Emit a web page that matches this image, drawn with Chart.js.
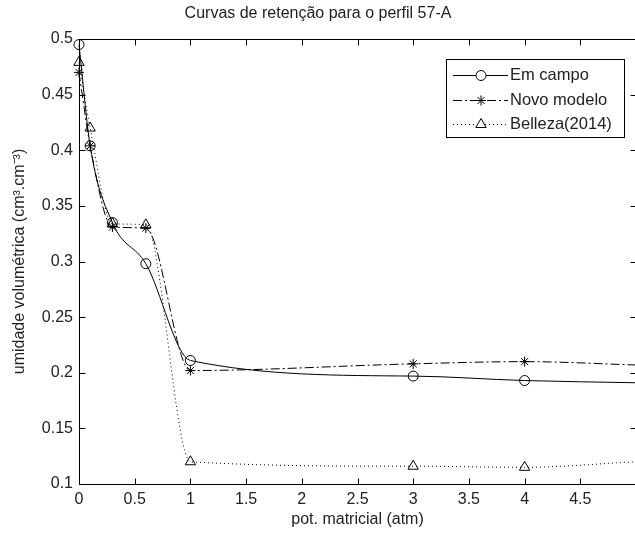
<!DOCTYPE html>
<html><head><meta charset="utf-8">
<script src="https://cdn.jsdelivr.net/npm/chart.js@4/dist/chart.umd.min.js"></script>
<style>
html,body{margin:0;padding:0;background:#fff;overflow:hidden;width:635px;height:534px}
#wrap{position:absolute;left:0;top:0;width:715px;height:534px}
</style>
</head><body><div id="wrap"><canvas id="c" width="715" height="534"></canvas></div>
<script>
// ---- data ----
const potMatricial = [0, 0.1, 0.3, 0.6, 1, 3, 4, 5];
const emCampo      = [0.495, 0.404, 0.335, 0.298, 0.211, 0.197, 0.193, 0.191];
const novoModelo   = [0.470, 0.404, 0.331, 0.330, 0.202, 0.208, 0.210, 0.207];
const belleza      = [0.479, 0.420, 0.334, 0.333, 0.120, 0.116, 0.115, 0.120];
const seriesNames  = ['Em campo', 'Novo modelo', 'Belleza(2014)'];
const xTicks = [0, 0.5, 1, 1.5, 2, 2.5, 3, 3.5, 4, 4.5, 5];
const xTickLabels = ['0', '0.5', '1', '1.5', '2', '2.5', '3', '3.5', '4', '4.5', '5'];
const yTicks = [0.1, 0.15, 0.2, 0.25, 0.3, 0.35, 0.4, 0.45, 0.5];
const yTickLabels = ['0.1', '0.15', '0.2', '0.25', '0.3', '0.35', '0.4', '0.45', '0.5'];
const titleText = 'Curvas de retenção para o perfil 57-A';
const xTitle = 'pot. matricial (atm)';
const yTitle = 'umidade volumétrica (cm³.cm⁻³)';

const FONT = '"Liberation Sans", Arial, sans-serif';
const TXT = '#222';
const lastIdx = potMatricial.length - 1;

function pts(ys){ return potMatricial.map((x,i)=>({x:x, y:ys[i]})); }
const hideLast = ctx => ctx.dataIndex === lastIdx ? 0 : undefined;

const styles = [
  {pointStyle:'circle', radius:5, dash:[]},
  {pointStyle:'star', radius:5, dash:[9,3,2,3]},
  {pointStyle:'triangle', radius:6, dash:[1,3]}
];
const seriesData = [emCampo, novoModelo, belleza];

const datasets = seriesData.map((ys,k)=>({
  label: seriesNames[k],
  data: pts(ys),
  borderColor:'#000',
  borderWidth:1,
  borderDash: styles[k].dash,
  backgroundColor:'rgba(0,0,0,0)',
  pointStyle: styles[k].pointStyle,
  pointRadius: ctx => ctx.dataIndex === lastIdx ? 0 : styles[k].radius,
  pointBorderColor:'#000',
  pointBorderWidth:1,
  pointBackgroundColor:'rgba(0,0,0,0)',
  cubicInterpolationMode:'monotone',
  fill:false,
  clip:false
}));

const axesPlugin = {
  id:'axesBox',
  afterDraw(chart){
    const {ctx, chartArea:a, scales:{x, y}} = chart;
    ctx.save();
    ctx.strokeStyle = '#000';
    ctx.lineWidth = 1;
    ctx.setLineDash([]);
    const L = Math.round(a.left)+0.5, R = Math.round(a.right)+0.5,
          T = Math.round(a.top)+0.5, B = Math.round(a.bottom)+0.5;
    ctx.beginPath();
    ctx.rect(L, T, R-L, B-T);
    const tl = 6;
    xTicks.forEach(v=>{
      const p = Math.round(x.getPixelForValue(v))+0.5;
      ctx.moveTo(p, B); ctx.lineTo(p, B-tl);
      ctx.moveTo(p, T); ctx.lineTo(p, T+tl);
    });
    yTicks.forEach(v=>{
      const p = Math.round(y.getPixelForValue(v))+0.5;
      ctx.moveTo(L, p); ctx.lineTo(L+tl, p);
      ctx.moveTo(R, p); ctx.lineTo(R-tl, p);
    });
    ctx.stroke();

    // legend
    const bx = 446.5, by = 59.5, bw = 178, bh = 78;
    ctx.fillStyle = '#fff';
    ctx.fillRect(bx, by, bw, bh);
    ctx.strokeRect(bx, by, bw, bh);
    const rows = [75, 100, 124];
    ctx.font = '16.5px ' + FONT;
    ctx.textBaseline = 'middle';
    ctx.textAlign = 'left';
    chart.data.datasets.forEach((ds,k)=>{
      const yy = rows[k] + 0.5;
      ctx.strokeStyle = '#000';
      ctx.lineWidth = 1;
      ctx.setLineDash(styles[k].dash);
      ctx.beginPath();
      ctx.moveTo(453, yy); ctx.lineTo(508, yy);
      ctx.stroke();
      ctx.setLineDash([]);
      ctx.fillStyle = '#fff';
      Chart.helpers.drawPoint(ctx, {pointStyle: styles[k].pointStyle, radius: styles[k].radius, borderWidth:1, rotation:0}, 481, yy);
      ctx.fillStyle = TXT;
      ctx.fillText(ds.label, 510, rows[k]);
    });
    ctx.restore();
  }
};

new Chart(document.getElementById('c'), {
  type:'line',
  data:{datasets},
  options:{
    responsive:false,
    devicePixelRatio:1,
    animation:false,
    layout:{padding:{left:0, right:79, top:0, bottom:0}},
    plugins:{
      legend:{display:false},
      tooltip:{enabled:false},
      title:{display:true, text:titleText, color:TXT,
        font:{family:FONT, size:16, weight:'normal', lineHeight:1.2},
        padding:{top:3.5, bottom:16.3}}
    },
    scales:{
      x:{type:'linear', min:0, max:5,
        afterBuildTicks: s => { s.ticks = xTicks.slice(0,-1).map(v=>({value:v})); },
        afterFit: s => { s.height = 50; },
        grid:{display:false, drawTicks:false},
        border:{display:false},
        ticks:{color:TXT, font:{family:FONT, size:16}, padding:6, maxRotation:0, autoSkip:false,
          callback: v => xTickLabels[xTicks.indexOf(v)]},
        title:{display:true, text:xTitle, color:TXT, font:{family:FONT, size:16, lineHeight:1.2}, padding:{top:0, bottom:4.4}}
      },
      y:{type:'linear', min:0.1, max:0.5,
        afterBuildTicks: s => { s.ticks = yTicks.map(v=>({value:v})); },
        afterFit: s => { s.width = 79; },
        grid:{display:false, drawTicks:false},
        border:{display:false},
        ticks:{color:TXT, font:{family:FONT, size:16}, padding:6, autoSkip:false,
          callback: v => yTickLabels[yTicks.indexOf(v)]},
        title:{display:true, text:yTitle, color:TXT, font:{family:FONT, size:16, lineHeight:1.2}, padding:{top:10, bottom:0}}
      }
    }
  },
  plugins:[axesPlugin]
});
</script>
</body></html>
